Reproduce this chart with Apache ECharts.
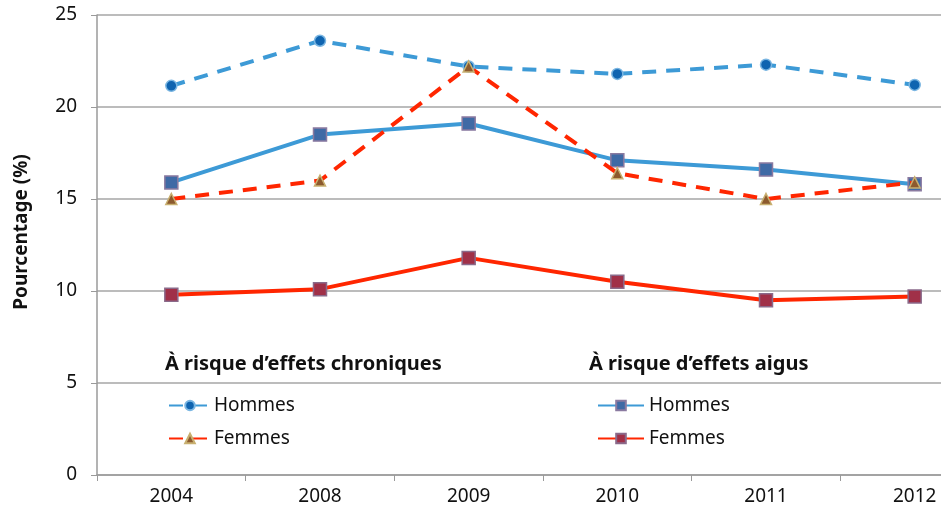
<!DOCTYPE html>
<html>
<head>
<meta charset="utf-8">
<script src="https://cdn.jsdelivr.net/npm/echarts@6/dist/echarts.min.js"></script>
<style>
  html, body { margin: 0; padding: 0; background: #fff; }
  #chart { width: 941px; height: 516px; }
</style>
</head>
<body>
<div id="chart"></div>
<script>
const years = ['2004', '2008', '2009', '2010', '2011', '2012']
const chroniqueHommes = [21.15, 23.6, 22.2, 21.8, 22.3, 21.2]
const chroniqueFemmes = [15.0, 16.0, 22.2, 16.4, 15.0, 15.9]
const aiguHommes = [15.9, 18.5, 19.1, 17.1, 16.6, 15.8]
const aiguFemmes = [9.8, 10.1, 11.8, 10.5, 9.5, 9.7]

const FONT = 'Noto Sans'
const BLUE = '#3d9ad6'
const RED = '#ff2600'

const chart = echarts.init(document.getElementById('chart'))

const lineSeries = (name, data, color, dashed, symbol, markerColor, borderColor, size) => ({
  name: name,
  type: 'line',
  data: data,
  symbol: symbol,
  symbolSize: size,
  lineStyle: { color: color, width: 4, type: dashed ? [14, 10] : 'solid' },
  itemStyle: { color: markerColor, borderColor: borderColor, borderWidth: 1.5 },
  z: dashed ? 3 : 2
})

// the plot runs past the right edge of the picture, as in the original
chart.setOption({
  animation: false,
  textStyle: { fontFamily: FONT },
  grid: { left: 97, top: 15, height: 460, width: 892, outerBoundsMode: 'none' },
  xAxis: {
    type: 'category',
    data: years,
    axisLine: { lineStyle: { color: '#9a9a9a', width: 1.5 } },
    axisTick: { show: true, length: 6, lineStyle: { color: '#9a9a9a' } },
    axisLabel: { color: '#111', fontSize: 19, margin: 12, fontFamily: FONT }
  },
  yAxis: {
    type: 'value',
    min: 0,
    max: 25,
    interval: 5,
    axisLine: { show: true, lineStyle: { color: '#9a9a9a', width: 1.5 } },
    axisTick: { show: true, length: 6, lineStyle: { color: '#9a9a9a' } },
    axisLabel: { color: '#111', fontSize: 19, margin: 20, fontFamily: FONT },
    splitLine: { lineStyle: { color: '#a6a6a6', width: 1.5 } }
  },
  legend: [
    {
      data: ['Hommes chronique', 'Femmes chronique'],
      orient: 'vertical',
      left: 163,
      top: 391,
      itemWidth: 42,
      itemHeight: 12,
      itemGap: 14,
      formatter: name => name.split(' ')[0],
      textStyle: { color: '#111', fontSize: 19, fontFamily: FONT, padding: [0, 0, 0, -2] }
    },
    {
      data: ['Hommes aigu', 'Femmes aigu'],
      orient: 'vertical',
      left: 592,
      top: 391,
      itemWidth: 46,
      itemHeight: 12,
      itemGap: 14,
      formatter: name => name.split(' ')[0],
      textStyle: { color: '#111', fontSize: 19, fontFamily: FONT, padding: [0, 0, 0, 0] }
    }
  ],
  graphic: [
    {
      type: 'text',
      x: 22,
      y: 232,
      rotation: Math.PI / 2,
      style: {
        text: 'Pourcentage (%)',
        fill: '#111',
        font: 'bold 19px "' + FONT + '"',
        align: 'center',
        verticalAlign: 'middle'
      }
    },
    {
      type: 'text',
      left: 165,
      top: 354,
      style: { text: 'À risque d’effets chroniques', fill: '#111', font: 'bold 20px "' + FONT + '"' }
    },
    {
      type: 'text',
      left: 589,
      top: 354,
      style: { text: 'À risque d’effets aigus', fill: '#111', font: 'bold 20px "' + FONT + '"' }
    }
  ],
  series: [
    lineSeries('Hommes aigu', aiguHommes, BLUE, false, 'rect', '#3f6aa5', '#8a7aa0', 13),
    lineSeries('Femmes aigu', aiguFemmes, RED, false, 'rect', '#a03048', '#8a6a8a', 13),
    lineSeries('Hommes chronique', chroniqueHommes, BLUE, true, 'circle', '#0f64b0', '#7ab6e2', 11),
    lineSeries('Femmes chronique', chroniqueFemmes, RED, true, 'triangle', '#8c5a2e', '#c8b070', 11)
  ]
})
</script>
</body>
</html>
